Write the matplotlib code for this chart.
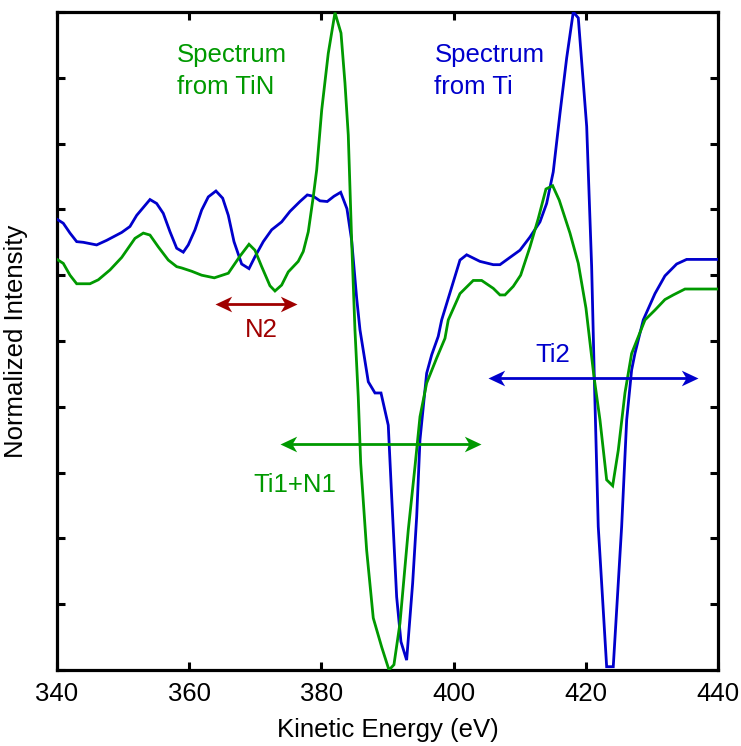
import matplotlib
matplotlib.use("Agg")
import matplotlib.pyplot as plt
from matplotlib.path import Path

plt.rcParams['font.family'] = ['Liberation Sans', 'DejaVu Sans']

# Spectrum from Ti (blue)
ti_energy = [340.0, 340.95, 341.97, 342.98, 343.98, 346.0, 347.52, 349.79, 351.04, 352.06,
             354.07, 355.08, 356.08, 357.10, 358.11, 359.11, 359.86, 360.88, 361.89, 362.89,
             364.05, 365.07, 365.92, 366.78, 367.94, 369.05, 369.95, 371.21, 372.48, 373.99,
             375.25, 376.76, 377.87, 378.77, 379.79, 380.89, 381.91, 382.92, 383.87, 384.58,
             385.34, 385.84, 387.10, 388.11, 389.02, 390.12, 390.64, 391.39, 392.04, 392.90,
             393.81, 394.42, 394.92, 395.93, 396.69, 397.68, 398.20, 400.97, 401.98, 403.99,
             406.01, 407.02, 408.53, 410.05, 411.56, 413.07, 414.08, 415.08, 416.10, 417.11,
             418.11, 418.87, 420.14, 420.89, 421.29, 421.89, 423.16, 424.16, 425.43, 426.19,
             426.94, 427.44, 428.70, 430.47, 431.98, 433.75, 435.26, 440.0]
ti_intensity = [6.85, 6.79, 6.64, 6.51, 6.50, 6.46, 6.53, 6.65, 6.74, 6.91,
                7.15, 7.09, 6.94, 6.66, 6.41, 6.35, 6.46, 6.69, 6.99, 7.19,
                7.28, 7.17, 6.91, 6.51, 6.17, 6.10, 6.28, 6.51, 6.69, 6.81,
                6.97, 7.12, 7.22, 7.20, 7.13, 7.12, 7.20, 7.26, 7.01, 6.53,
                5.65, 5.17, 4.38, 4.21, 4.21, 3.72, 2.63, 1.11, 0.43, 0.15,
                1.32, 2.33, 3.50, 4.51, 4.79, 5.07, 5.32, 6.23, 6.31, 6.21,
                6.16, 6.16, 6.27, 6.38, 6.58, 6.81, 7.09, 7.57, 8.46, 9.30,
                10.0, 9.91, 8.26, 6.13, 4.46, 2.18, 0.05, 0.05, 2.18, 3.80,
                4.56, 4.81, 5.32, 5.72, 5.99, 6.17, 6.24, 6.24]

# Spectrum from TiN (green)
tin_energy = [340.0, 340.95, 341.97, 342.98, 344.99, 346.25, 348.02, 349.79, 351.80, 353.06,
              354.07, 355.33, 356.84, 358.11, 358.87, 360.38, 361.89, 363.80, 365.92, 367.69,
              369.05, 369.95, 370.97, 372.22, 372.98, 373.99, 374.99, 376.50, 377.26, 378.02,
              378.77, 379.29, 380.05, 381.04, 382.06, 382.97, 383.57, 384.07, 384.58, 385.08,
              385.58, 385.95, 386.85, 387.85, 389.12, 390.23, 390.98, 391.89, 393.15, 394.16,
              394.92, 395.93, 397.44, 398.70, 399.20, 400.97, 402.98, 404.25, 406.01, 407.02,
              407.78, 409.03, 410.15, 411.56, 412.81, 413.98, 414.99, 415.99, 417.61, 418.87,
              420.03, 421.24, 422.15, 423.16, 424.07, 424.92, 425.93, 426.94, 428.96, 430.47,
              431.98, 433.24, 435.01, 440.0]
tin_intensity = [6.24, 6.18, 6.00, 5.87, 5.87, 5.93, 6.08, 6.27, 6.56, 6.64,
                 6.61, 6.43, 6.23, 6.13, 6.11, 6.06, 6.00, 5.96, 6.03, 6.29,
                 6.47, 6.38, 6.13, 5.84, 5.76, 5.85, 6.05, 6.21, 6.36, 6.66,
                 7.19, 7.60, 8.51, 9.37, 9.99, 9.68, 8.92, 8.13, 6.53, 5.17,
                 4.15, 3.14, 1.82, 0.79, 0.35, 0.0, 0.08, 0.71, 2.13, 3.09,
                 3.85, 4.36, 4.74, 5.04, 5.32, 5.72, 5.92, 5.92, 5.80, 5.70,
                 5.70, 5.83, 6.00, 6.43, 6.86, 7.31, 7.36, 7.14, 6.64, 6.18,
                 5.50, 4.46, 3.80, 2.89, 2.80, 3.34, 4.21, 4.81, 5.32, 5.47,
                 5.63, 5.70, 5.79, 5.79]

x_ticks = [340, 360, 380, 400, 420, 440]

# Annotation ranges (eV) and levels
n2_range = (363.9, 376.3)
n2_level = 5.56
ti1n1_range = (373.75, 404.1)
ti1n1_level = 3.43
ti2_range = (405.25, 437.0)
ti2_level = 4.445

BLUE = "#0000CC"
GREEN = "#009900"
DARKRED = "#A00000"

fig = plt.figure(figsize=(7.41, 7.46), dpi=100)
ax = fig.add_axes([0.0769, 0.1019, 0.892, 0.882])

ax.plot(ti_energy, ti_intensity, color=BLUE, lw=2.0, solid_joinstyle='miter', zorder=3)
ax.plot(tin_energy, tin_intensity, color=GREEN, lw=2.0, solid_joinstyle='miter', zorder=3)

ax.set_xlim(340, 440)
ax.set_ylim(0, 10)
ax.set_xticks(x_ticks)
ax.set_xticklabels([str(t) for t in x_ticks])
ax.set_yticks(range(0, 11))
ax.set_yticklabels([])
ax.tick_params(direction='in', length=6, width=2.2, top=True, right=True,
               labelsize=18.5, pad=9)
for s in ax.spines.values():
    s.set_linewidth(2.3)

ax.set_xlabel("Kinetic Energy (eV)", fontsize=18.5, labelpad=8)
ax.set_ylabel("Normalized Intensity", fontsize=18.5, labelpad=12)

fs = 18.5
ax.text(358.2, 9.245, "Spectrum", color=GREEN, fontsize=fs, va='baseline', ha='left')
ax.text(358.2, 8.754, "from TiN", color=GREEN, fontsize=fs, va='baseline', ha='left')
ax.text(397.1, 9.245, "Spectrum", color=BLUE, fontsize=fs, va='baseline', ha='left')
ax.text(397.1, 8.754, "from Ti", color=BLUE, fontsize=fs, va='baseline', ha='left')

# stealth-style arrowheads as markers (tip at the marker origin)
right_head = Path([(0, 0), (-1, 0.47), (-0.72, 0), (-1, -0.47), (0, 0)],
                  [Path.MOVETO, Path.LINETO, Path.LINETO, Path.LINETO, Path.CLOSEPOLY])
left_head = Path([(0, 0), (1, 0.47), (0.72, 0), (1, -0.47), (0, 0)],
                 [Path.MOVETO, Path.LINETO, Path.LINETO, Path.LINETO, Path.CLOSEPOLY])

def darrow(rng, y, color):
    x0, x1 = rng
    inset = 1.4
    ax.plot([x0 + inset, x1 - inset], [y, y], color=color, lw=2.0, solid_capstyle='butt', zorder=4)
    ax.plot([x0], [y], marker=left_head, markersize=24, color=color, mew=0, zorder=5)
    ax.plot([x1], [y], marker=right_head, markersize=24, color=color, mew=0, zorder=5)

darrow(n2_range, n2_level, DARKRED)
ax.text(370.97, 5.065, "N2", color=DARKRED, fontsize=fs, va='baseline', ha='center')

darrow(ti1n1_range, ti1n1_level, GREEN)
ax.text(376.0, 2.71, "Ti1+N1", color=GREEN, fontsize=fs, va='baseline', ha='center')

darrow(ti2_range, ti2_level, BLUE)
ax.text(414.96, 4.676, "Ti2", color=BLUE, fontsize=fs, va='baseline', ha='center')

fig.savefig("out.png", dpi=100)
